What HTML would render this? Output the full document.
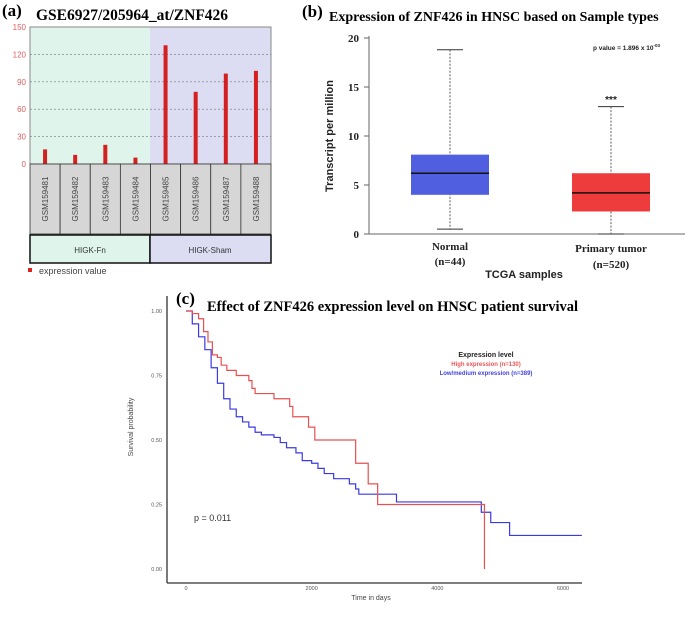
<!DOCTYPE html>
<html><head><meta charset="utf-8"><style>
html,body{margin:0;padding:0;background:#fff;}
svg{display:block;font-family:"Liberation Sans",sans-serif;}
.serif{font-family:"Liberation Serif",serif;font-weight:bold;}
</style></head><body>
<svg id="fig" width="693" height="617" viewBox="0 0 693 617">
<g>
<text class="serif" x="2" y="16" font-size="17">(a)</text>
<text class="serif" x="36" y="20" font-size="15.5">GSE6927/205964_at/ZNF426</text>
<rect x="30" y="27" width="120" height="137" fill="#dff5ec"/>
<rect x="150" y="27" width="121" height="137" fill="#dcdcf3"/>
<rect x="30" y="27" width="241" height="137" fill="none" stroke="#888" stroke-width="1"/>
<g id="agrid"></g>
<g id="abars"></g>
<g id="alabels"></g>
<rect x="30" y="235" width="120" height="28" fill="#dff5ec" stroke="#111" stroke-width="1.5"/>
<rect x="150" y="235" width="121" height="28" fill="#dcdcf3" stroke="#111" stroke-width="1.5"/>
<text x="90" y="253" font-size="8" fill="#333" text-anchor="middle">HIGK-Fn</text>
<text x="210" y="253" font-size="8" fill="#333" text-anchor="middle">HIGK-Sham</text>
<rect x="28" y="268" width="4" height="4" fill="#d22"/>
<text x="39" y="274" font-size="9" fill="#444">expression value</text>
</g>
<g>
<text class="serif" x="302" y="17" font-size="17">(b)</text>
<text class="serif" x="329" y="21" font-size="14">Expression of ZNF426 in HNSC based on Sample types</text>
<line x1="369" y1="36" x2="369" y2="234" stroke="#666"/>
<line x1="369" y1="234" x2="685" y2="234" stroke="#666"/>
<g id="bticks"></g>
<g id="bboxes"></g>
<text x="333" y="136" font-size="11" font-weight="bold" fill="#222" text-anchor="middle" transform="rotate(-90 333 136)">Transcript per million</text>
<text x="660" y="50" font-size="6.5" font-weight="bold" fill="#222" text-anchor="end">p value = 1.896 x 10<tspan font-size="4.5" dy="-3">-03</tspan></text>
<text x="611" y="103" font-size="10" font-weight="bold" fill="#222" text-anchor="middle">***</text>
<text class="serif" x="450" y="250" font-size="11" text-anchor="middle" fill="#222">Normal</text>
<text class="serif" x="450" y="265" font-size="11" text-anchor="middle" fill="#222">(n=44)</text>
<text class="serif" x="611" y="252" font-size="11" text-anchor="middle" fill="#222">Primary tumor</text>
<text class="serif" x="611" y="268" font-size="11" text-anchor="middle" fill="#222">(n=520)</text>
<text x="524" y="278" font-size="11" font-weight="bold" text-anchor="middle" fill="#222">TCGA samples</text>
</g>
<g>
<text class="serif" x="176" y="304" font-size="17">(c)</text>
<text class="serif" x="207" y="311" font-size="14.5">Effect of ZNF426 expression level on HNSC patient survival</text>
<line x1="167" y1="296" x2="167" y2="583" stroke="#333" stroke-width="1.3"/>
<line x1="167" y1="583" x2="582" y2="583" stroke="#333" stroke-width="1.3"/>
<g id="cticks"></g>
<g id="ccurves"></g>
<text x="133" y="427" font-size="7" fill="#444" text-anchor="middle" transform="rotate(-90 133 427)">Survival probability</text>
<text x="371" y="600" font-size="7" fill="#444" text-anchor="middle">Time in days</text>
<text x="486" y="357" font-size="7" font-weight="bold" fill="#222" text-anchor="middle">Expression level</text>
<text x="486" y="366" font-size="6" font-weight="bold" fill="#e55" text-anchor="middle">High expression (n=130)</text>
<text x="486" y="375" font-size="6" font-weight="bold" fill="#44d" text-anchor="middle">Low/medium expression (n=389)</text>
<text x="194" y="521" font-size="9" fill="#333">p = 0.011</text>
</g>
</svg>
<script>
const aSamples=["GSM159481","GSM159482","GSM159483","GSM159484","GSM159485","GSM159486","GSM159487","GSM159488"];
const aValues=[16,10,21,7,130,79,99,102];
const aTicks=[0,30,60,90,120,150];
const bCats=["Normal","Primary tumor"];
const bMin=[0.5,0];
const bQ1=[4,2.3];
const bMed=[6.2,4.2];
const bQ3=[8.1,6.2];
const bMax=[18.8,13];
const bColors=["#4f5fe0","#ee3b3b"];
const bTicks=[0,5,10,15,20];
const cTicksY=["0.00","0.25","0.50","0.75","1.00"];
const cTicksX=[0,2000,4000,6000];
const highT=[0,100,200,280,350,420,500,560,650,800,1000,1050,1100,1400,1650,1700,1950,2050,2700,2900,3050,4750,4750];
const highS=[1,0.99,0.97,0.92,0.88,0.83,0.82,0.79,0.77,0.75,0.73,0.70,0.68,0.66,0.63,0.59,0.55,0.50,0.41,0.33,0.25,0.25,0.0];
const lowT=[0,100,200,300,400,500,600,700,800,900,1000,1100,1200,1400,1500,1600,1750,1850,2000,2100,2200,2350,2600,2700,2750,3350,4700,4850,5150,6300];
const lowS=[1,0.95,0.90,0.85,0.78,0.72,0.66,0.62,0.59,0.57,0.55,0.53,0.52,0.51,0.49,0.47,0.45,0.42,0.41,0.39,0.37,0.35,0.33,0.31,0.29,0.26,0.22,0.18,0.13,0.13];

const NS="http://www.w3.org/2000/svg";
function mk(tag,attrs,parent){const e=document.createElementNS(NS,tag);for(const k in attrs)e.setAttribute(k,attrs[k]);parent.appendChild(e);return e;}

const ay=v=>164-v*(137/150);
const ax=i=>30+241/8*(i+0.5);
const ag=document.getElementById('agrid');
aTicks.forEach(t=>{
  if(t>0&&t<150){const l=mk('line',{x1:30,x2:271,y1:ay(t),y2:ay(t),stroke:'#777','stroke-dasharray':'2,2','stroke-width':0.6},ag);
  
  }
  const tx=mk('text',{x:26,y:ay(t)+3,'font-size':8,fill:'#e06060','text-anchor':'end'},ag);tx.textContent=t;
  
  
});
const ab=document.getElementById('abars'), al=document.getElementById('alabels');
aSamples.forEach((s,i)=>{
  const r=mk('rect',{x:ax(i)-2,y:ay(aValues[i]),width:4,height:164-ay(aValues[i]),fill:'#d42020'},ab);
  
  
  const bx=mk('rect',{x:30+241/8*i,y:164,width:241/8,height:70,fill:'#d6d6d6',stroke:'#333','stroke-width':0.8},al);
  
  
  const cx=ax(i)+3, cy=199;
  const t=mk('text',{x:cx,y:cy,'font-size':8,fill:'#444','text-anchor':'middle',transform:`rotate(-90 ${cx} ${cy})`},al);t.textContent=s;
  
  
});

const by=v=>234-v*9.8;
const bx=[450,611];
const bt=document.getElementById('bticks');
bTicks.forEach(t=>{
  mk('line',{x1:364,x2:369,y1:by(t),y2:by(t),stroke:'#666'},bt);
  const tx=mk('text',{x:359,y:by(t)+4,'font-size':11,'text-anchor':'end',fill:'#222','font-family':'Liberation Serif','font-weight':'bold'},bt);tx.textContent=t;
  
  
});
const bb=document.getElementById('bboxes');
bCats.forEach((c,i)=>{
  const x=bx[i];
  const w=mk('line',{x1:x,x2:x,y1:by(bMax[i]),y2:by(bMin[i]),stroke:'#333','stroke-dasharray':'2,1.5','stroke-width':0.8},bb);
  
  
  [bMax[i],bMin[i]].forEach(v=>mk('line',{x1:x-13,x2:x+13,y1:by(v),y2:by(v),stroke:'#333'},bb));
  const r=mk('rect',{x:x-39,y:by(bQ3[i]),width:78,height:by(bQ1[i])-by(bQ3[i]),fill:bColors[i]},bb);
  
  
  const m=mk('line',{x1:x-39,x2:x+39,y1:by(bMed[i]),y2:by(bMed[i]),stroke:'#111','stroke-width':1.5},bb);
  
  
});

const cx=t=>186+t*(377/6000);
const cy=s=>569-s*258;
const ct=document.getElementById('cticks');
cTicksY.forEach(t=>{
  const tx=mk('text',{x:162,y:cy(+t)+2,'font-size':5.5,fill:'#555','text-anchor':'end'},ct);tx.textContent=t;
  
  
});
cTicksX.forEach(t=>{
  const tx=mk('text',{x:cx(t),y:590,'font-size':5.5,fill:'#555','text-anchor':'middle'},ct);tx.textContent=t;
  
  
});
function step(T,S){let d=`M${cx(T[0])},${cy(S[0])}`;for(let i=1;i<T.length;i++){d+=`H${cx(T[i])}V${cy(S[i])}`;}return d;}
const cc=document.getElementById('ccurves');
const pl=mk('path',{d:step(lowT,lowS),fill:'none',stroke:'#3a3ae0','stroke-width':1.2},cc);


const ph=mk('path',{d:step(highT,highS),fill:'none',stroke:'#e85050','stroke-width':1.2},cc);


</script>
</body></html>
